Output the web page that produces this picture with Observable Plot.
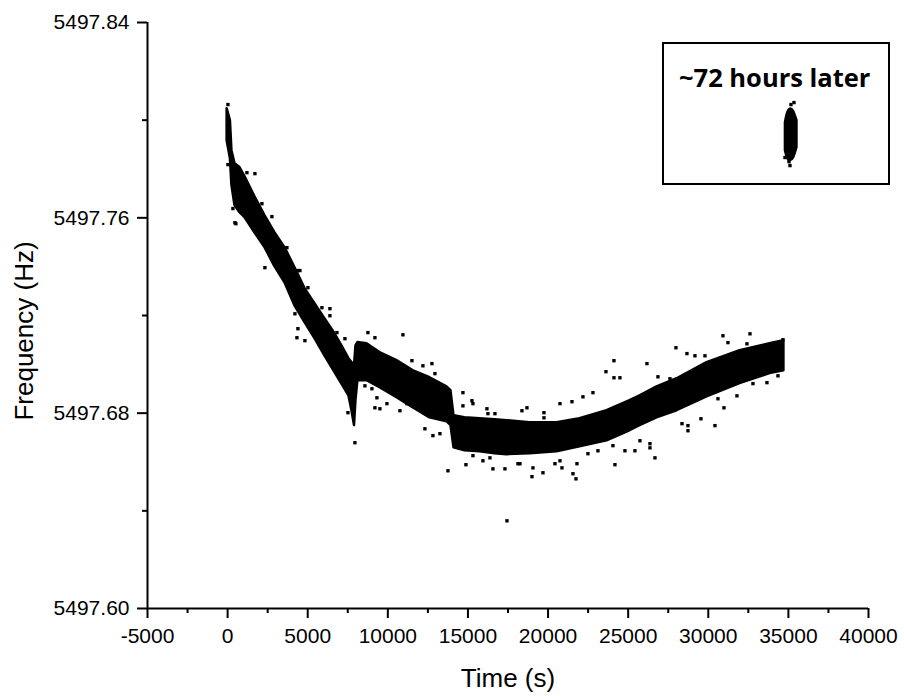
<!DOCTYPE html>
<html>
<head>
<meta charset="utf-8">
<script src="https://cdn.jsdelivr.net/npm/d3@7"></script>
<script src="https://cdn.jsdelivr.net/npm/@observablehq/plot@0.6"></script>
<style>
  html, body { margin: 0; padding: 0; background: #fff; }
  #chart { width: 904px; height: 696px; }
</style>
</head>
<body>
<div id="chart"></div>
<script>
// ---- data (time in s, frequency in Hz) ----
const xTicks = [-5000, 0, 5000, 10000, 15000, 20000, 25000, 30000, 35000, 40000];
const xMinorTicks = [-2500, 2500, 7500, 12500, 17500, 22500, 27500, 32500, 37500];
const yTicks = [5497.60, 5497.68, 5497.76, 5497.84];
const yMinorTicks = [5497.64, 5497.72, 5497.80];

// dense measurement band: upper / lower envelope of the point cloud
const bandT = [-30, 175, 270, 460, 770, 1080, 1700, 2330, 2950, 3580, 4200, 4830, 5450, 6070, 6700, 7200, 7570, 7760, 7920, 8010, 8130, 8700, 9510, 10570, 11570, 12630, 13690, 13940, 14130, 14810, 15750, 16690, 17430, 18870, 20560, 21990, 23680, 25110, 25740, 26800, 28050, 29920, 31980, 33850, 34720];
const bandHigh = [5497.8047, 5497.7998, 5497.7875, 5497.7822, 5497.7806, 5497.7769, 5497.7687, 5497.7609, 5497.7539, 5497.7478, 5497.7396, 5497.7310, 5497.7248, 5497.7187, 5497.7125, 5497.7068, 5497.7023, 5497.7007, 5497.6994, 5497.7076, 5497.7089, 5497.7084, 5497.7048, 5497.7015, 5497.6974, 5497.6945, 5497.6908, 5497.6892, 5497.6789, 5497.6781, 5497.6777, 5497.6773, 5497.6769, 5497.6761, 5497.6761, 5497.6777, 5497.6810, 5497.6851, 5497.6871, 5497.6908, 5497.6941, 5497.7007, 5497.7056, 5497.7084, 5497.7097];
const bandLow = [5497.7916, 5497.7842, 5497.7732, 5497.7650, 5497.7621, 5497.7601, 5497.7539, 5497.7478, 5497.7400, 5497.7334, 5497.7240, 5497.7171, 5497.7105, 5497.7035, 5497.6966, 5497.6912, 5497.6871, 5497.6810, 5497.6749, 5497.6851, 5497.6933, 5497.6933, 5497.6904, 5497.6863, 5497.6822, 5497.6781, 5497.6765, 5497.6749, 5497.6658, 5497.6646, 5497.6642, 5497.6634, 5497.6630, 5497.6634, 5497.6642, 5497.6662, 5497.6687, 5497.6728, 5497.6749, 5497.6781, 5497.6810, 5497.6867, 5497.6921, 5497.6962, 5497.6974];

// scattered individual points outside / at the edge of the dense band
const outT = [20, 20, 1704, 1205, 331, 518, 2765, 2328, 4513, 6385, 6385, 4326, 4388, 6822, 7322, 8757, 9194, 10942, 11504, 12190, 12752, 12939, 14687, 14687, 9319, 9194, 9507, 9944, 10755, 11192, 7509, 7946, 12315, 12814, 13251, 8570, 9007, 13752, 14875, 15312, 15936, 16560, 17310, 17435, 18122, 18996, 19682, 20431, 20868, 21555, 21742, 21804, 20743, 21492, 22178, 22802, 23613, 24113, 24113, 24487, 26172, 27982, 27608, 26859, 24175, 24799, 25423, 25735, 26360, 26672, 18371, 18683, 19744, 19744, 16248, 16685, 28669, 29168, 29793, 30916, 31228, 32602, 32414, 34661, 26360, 28732, 28732, 28358, 29543, 30417, 30978, 31790, 30604, 33662, 34349, 32789, 2141, 3701, 4388, 5012, 5886, 456, 4201, 4825, 15249, 16185, 15312, 16373, 18247, 19058, 20743, 22490, 23114, 24050];
const outF = [5497.8064, 5497.7818, 5497.7781, 5497.7785, 5497.7638, 5497.7576, 5497.7605, 5497.7396, 5497.7384, 5497.7228, 5497.7199, 5497.7109, 5497.7146, 5497.7130, 5497.7105, 5497.7130, 5497.7109, 5497.7121, 5497.7015, 5497.6994, 5497.7003, 5497.6962, 5497.6884, 5497.6830, 5497.6863, 5497.6822, 5497.6818, 5497.6839, 5497.6810, 5497.6839, 5497.6802, 5497.6679, 5497.6736, 5497.6708, 5497.6716, 5497.6912, 5497.6900, 5497.6564, 5497.6589, 5497.6839, 5497.6605, 5497.6572, 5497.6572, 5497.6359, 5497.6593, 5497.6540, 5497.6556, 5497.6593, 5497.6576, 5497.6552, 5497.6531, 5497.6593, 5497.6839, 5497.6847, 5497.6867, 5497.6884, 5497.6970, 5497.7015, 5497.6945, 5497.6945, 5497.7003, 5497.7068, 5497.6941, 5497.6949, 5497.6589, 5497.6646, 5497.6646, 5497.6687, 5497.6658, 5497.6617, 5497.6810, 5497.6822, 5497.6802, 5497.6781, 5497.6798, 5497.6798, 5497.7044, 5497.7035, 5497.7035, 5497.7117, 5497.7089, 5497.7125, 5497.7084, 5497.7101, 5497.6675, 5497.6728, 5497.6749, 5497.6757, 5497.6777, 5497.6749, 5497.6822, 5497.6871, 5497.6859, 5497.6925, 5497.6953, 5497.6921, 5497.7658, 5497.7478, 5497.7384, 5497.7314, 5497.7232, 5497.7580, 5497.7207, 5497.7097, 5497.6851, 5497.6818, 5497.6626, 5497.6617, 5497.6593, 5497.6576, 5497.6605, 5497.6634, 5497.6646, 5497.6667];

// measurement ~72 hours later
const laterT = [34800, 34950, 35150, 35350, 35550];
const laterHigh = [5497.7990, 5497.8031, 5497.8047, 5497.8035, 5497.7998];
const laterLow = [5497.7875, 5497.7842, 5497.7834, 5497.7847, 5497.7887];
const laterOutT = [35349, 35162, 34787, 35099, 35037];
const laterOutF = [5497.8072, 5497.8064, 5497.7847, 5497.7814, 5497.7830];

const legendText = "~72 hours later";
const xLabel = "Time (s)";
const yLabel = "Frequency (Hz)";

// ---- build tables ----
const band = bandT.map((t, i) => ({t, hi: bandHigh[i], lo: bandLow[i]}));
const outliers = outT.map((t, i) => ({t, f: outF[i]}));
const later = laterT.map((t, i) => ({t, hi: laterHigh[i], lo: laterLow[i]}));
const laterOut = laterOutT.map((t, i) => ({t, f: laterOutF[i]}));

const font = "'Liberation Sans', Arial, sans-serif";

const chart = Plot.plot({
  width: 904,
  height: 696,
  marginLeft: 147,
  marginRight: 36,
  marginTop: 22,
  marginBottom: 88,
  style: {fontFamily: font, fontSize: "21px", color: "black", background: "white", overflow: "visible"},
  x: {domain: [-5000, 40000]},
  y: {domain: [5497.60, 5497.84]},
  marks: [
    Plot.axisX({ticks: xTicks, tickSize: 10, tickPadding: 10, strokeWidth: 2, tickFormat: d => String(d), label: null, fontSize: 21}),
    Plot.axisX({ticks: xMinorTicks, tickSize: 5, strokeWidth: 2, tickFormat: () => "", label: null}),
    Plot.axisY({ticks: yTicks, tickSize: 10, tickPadding: 8, strokeWidth: 2, tickFormat: d => d.toFixed(2), label: null, fontSize: 21}),
    Plot.axisY({ticks: yMinorTicks, tickSize: 5, strokeWidth: 2, tickFormat: () => "", label: null}),
    Plot.ruleX([-5000], {strokeWidth: 2}),
    Plot.ruleY([5497.60], {strokeWidth: 2}),
    Plot.areaY(band, {x: "t", y1: "lo", y2: "hi", fill: "black", stroke: "black", strokeWidth: 2.5, strokeLinejoin: "round"}),
    Plot.dot(outliers, {x: "t", y: "f", symbol: "square", r: 1.9, fill: "black"}),
    Plot.areaY(later, {x: "t", y1: "lo", y2: "hi", fill: "black", stroke: "black", strokeWidth: 2, curve: "natural"}),
    Plot.dot(laterOut, {x: "t", y: "f", symbol: "square", r: 1.9, fill: "black"})
  ]
});

document.getElementById("chart").appendChild(chart);

// annotations: axis titles and inset box
const svg = d3.select(chart);
svg.append("text")
  .attr("x", 508).attr("y", 687)
  .attr("text-anchor", "middle")
  .attr("font-family", font).attr("font-size", 26).attr("fill", "black")
  .text(xLabel);
svg.append("text")
  .attr("transform", "translate(33,331) rotate(-90)")
  .attr("text-anchor", "middle")
  .attr("font-family", font).attr("font-size", 26).attr("fill", "black")
  .text(yLabel);
svg.append("rect")
  .attr("x", 663).attr("y", 43).attr("width", 226).attr("height", 141)
  .attr("fill", "none").attr("stroke", "black").attr("stroke-width", 2);
svg.append("text")
  .attr("x", 679).attr("y", 87)
  .attr("text-anchor", "start")
  .attr("font-family", "'Open Sans', Lato, sans-serif").attr("font-weight", "bold")
  .attr("font-size", 25.5).attr("fill", "black")
  .text(legendText);
</script>
</body>
</html>
